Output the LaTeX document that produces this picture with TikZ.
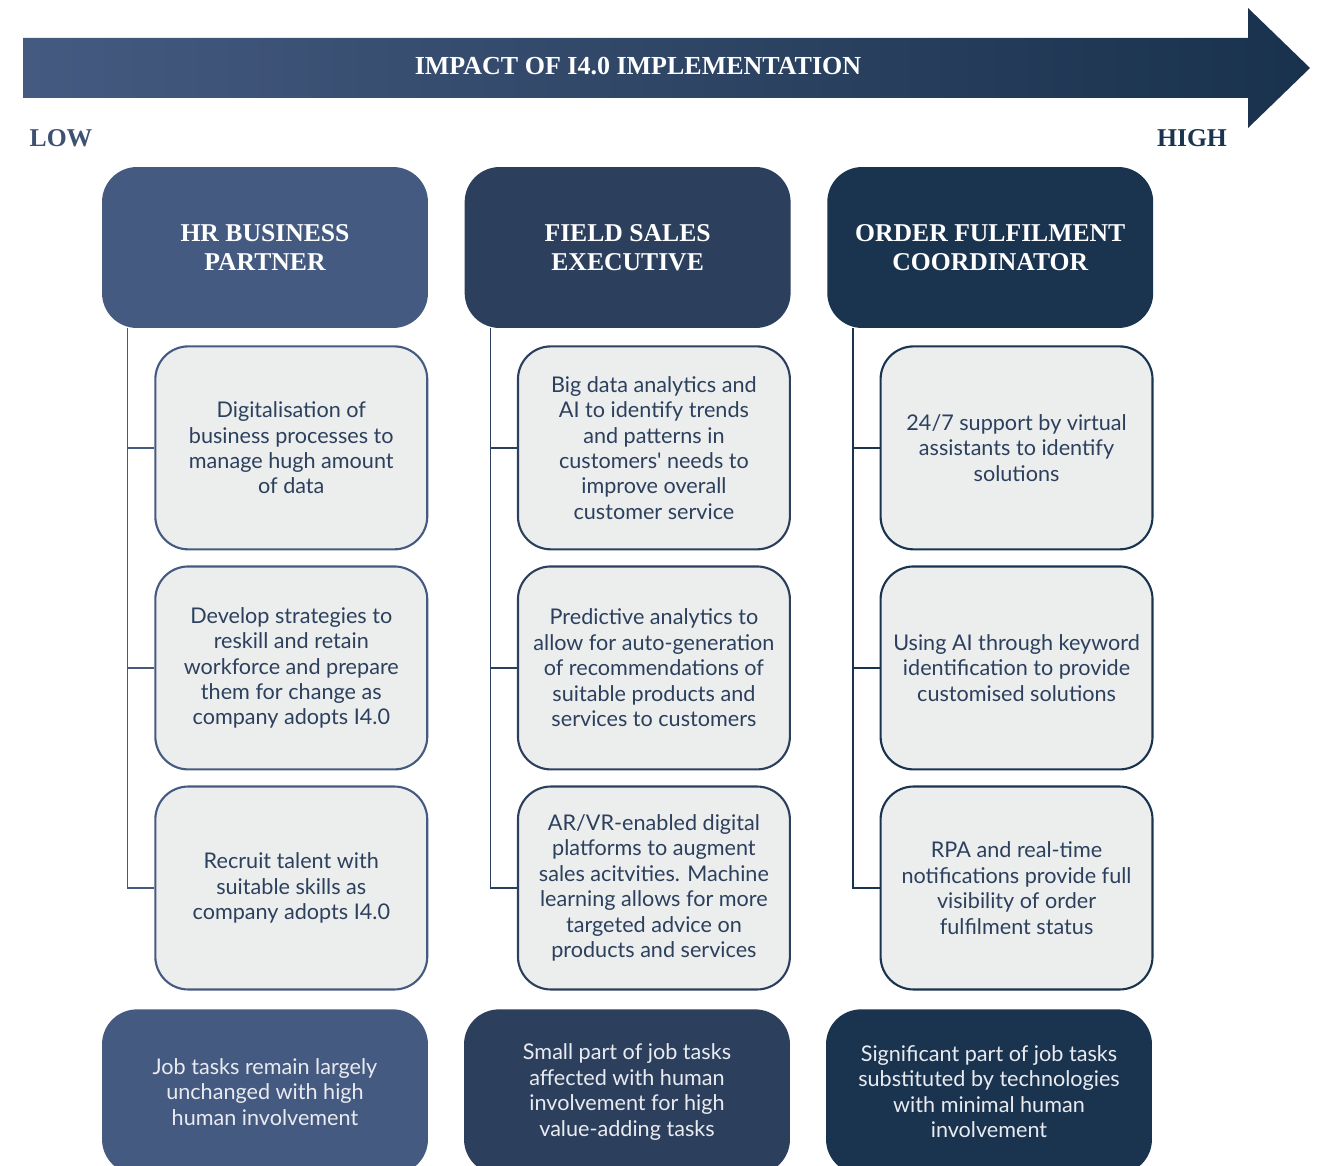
\documentclass[tikz,border=0pt]{standalone}
\usepackage{fontspec}
\setmainfont{Liberation Serif}
\newfontfamily\bodyfont{Lato}
\usepackage{tikz}
\usetikzlibrary{positioning}

\definecolor{lowblue}{RGB}{69,90,128}
\definecolor{midblue}{RGB}{44,64,94}
\definecolor{highblue}{RGB}{26,52,80}
\definecolor{taskgray}{RGB}{236,238,237}

\begin{document}
\begin{tikzpicture}[x=0.02cm, y=-0.02cm, node distance=0.3cm]
    \tikzstyle{head}=[rounded corners=0.7cm, minimum width=6.52cm, minimum height=3.22cm, text=white, align=center, font=\bfseries\fontsize{14.6}{16.5}\selectfont]
    \tikzstyle{task}=[draw, line width=1.2pt, fill=taskgray, rounded corners=0.66cm, minimum width=5.44cm, minimum height=4.06cm, text=midblue, align=center, font=\bodyfont\fontsize{12.3}{14.5}\selectfont]
    \tikzstyle{outcome}=[rounded corners=0.7cm, minimum width=6.52cm, minimum height=3.3cm, text=white!88!lowblue, align=center, font=\bodyfont\fontsize{12.3}{14.5}\selectfont]
    \tikzstyle{branch}=[line width=0.8pt]

    \useasboundingbox (0,0) rectangle (1329,1166);
    \clip (0,0) rectangle (1329,1166);

    % arrow
    \shade[left color=lowblue, right color=highblue!95!black] (23,38) -- (1248,38) -- (1248,8) -- (1310,68) -- (1248,128) -- (1248,98) -- (23,98) -- cycle;
    \node[text=white, font=\bfseries\fontsize{14.8}{16.5}\selectfont] (T) at (638,66) {IMPACT OF I4.0 IMPLEMENTATION};
    \node[text=lowblue!90!black, font=\bfseries\fontsize{14.6}{16.5}\selectfont] (L) at (61,138) {LOW};
    \node[text=highblue, font=\bfseries\fontsize{14.6}{16.5}\selectfont] (H) at (1192,138) {HIGH};

    % headers
    \node[head, fill=lowblue] (A) at (265,247.5) {HR BUSINESS\\PARTNER};
    \node[head, fill=midblue, right=0.72cm of A] (B) {FIELD SALES\\EXECUTIVE};
    \node[head, fill=highblue, right=0.72cm of B] (C) {ORDER FULFILMENT\\COORDINATOR};

    % tasks
    \node[task, draw=lowblue, below=0.34cm of A.south east, anchor=north east] (A1) {Digitalisation of\\business processes to\\manage hugh amount\\of data};
    \node[task, draw=lowblue, below=of A1] (A2) {Develop strategies to\\reskill and retain\\workforce and prepare\\them for change as\\company adopts I4.0};
    \node[task, draw=lowblue, below=of A2] (A3) {Recruit talent with\\suitable skills as\\company adopts I4.0};

    \node[task, draw=midblue, below=0.34cm of B.south east, anchor=north east] (B1) {Big data analytics and\\AI to identify trends\\and patterns in\\customers' needs to\\improve overall\\customer service};
    \node[task, draw=midblue, below=of B1] (B2) {Predictive analytics to\\allow for auto-generation\\of recommendations of\\suitable products and\\services to customers};
    \node[task, draw=midblue, below=of B2] (B3) {AR/VR-enabled digital\\platforms to augment\\sales acitvities. Machine\\learning allows for more\\targeted advice on\\products and services};

    \node[task, draw=highblue, below=0.34cm of C.south east, anchor=north east] (C1) {24/7 support by virtual\\assistants to identify\\solutions};
    \node[task, draw=highblue, below=of C1] (C2) {Using AI through keyword\\identification to provide\\customised solutions};
    \node[task, draw=highblue, below=of C2] (C3) {RPA and real-time\\notifications provide full\\visibility of order\\fulfilment status};

    % outcomes
    \node[outcome, fill=lowblue, anchor=north] (A4) at (265,1009) {Job tasks remain largely\\unchanged with high\\human involvement};
    \node[outcome, fill=midblue, anchor=north] (B4) at (627,1009) {Small part of job tasks\\affected with human\\involvement for high\\value-adding tasks};
    \node[outcome, fill=highblue, anchor=north] (C4) at (989,1009) {Significant part of job tasks\\substituted by technologies\\with minimal human\\involvement};

    % branches
    \coordinate (a) at ([xshift=0.52cm]A.south west);
    \coordinate (b) at ([xshift=0.52cm]B.south west);
    \coordinate (c) at ([xshift=0.52cm]C.south west);
    \draw[branch, lowblue] (a) |- (A3.west);
    \draw[branch, lowblue] (a |- A1.west) -- (A1.west);
    \draw[branch, lowblue] (a |- A2.west) -- (A2.west);
    \draw[branch, midblue] (b) |- (B3.west);
    \draw[branch, midblue] (b |- B1.west) -- (B1.west);
    \draw[branch, midblue] (b |- B2.west) -- (B2.west);
    \draw[branch, highblue] (c) |- (C3.west);
    \draw[branch, highblue] (c |- C1.west) -- (C1.west);
    \draw[branch, highblue] (c |- C2.west) -- (C2.west);
\end{tikzpicture}
\end{document}
